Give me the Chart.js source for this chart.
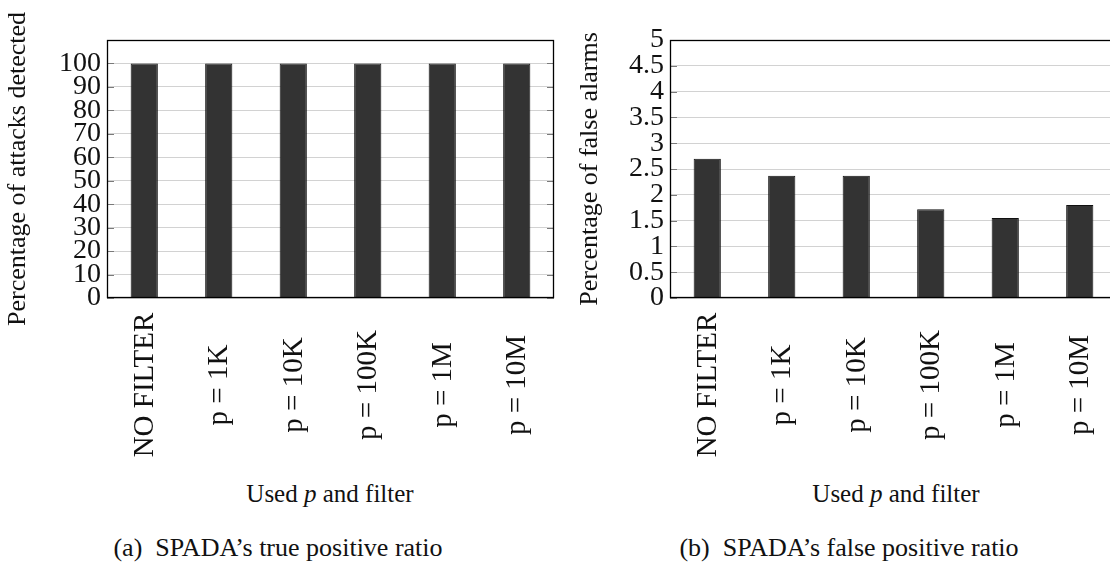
<!DOCTYPE html>
<html>
<head>
<meta charset="utf-8">
<script src="https://cdn.jsdelivr.net/npm/chart.js@4/dist/chart.umd.min.js"></script>
<style>
  html, body { margin: 0; padding: 0; background: #fff; overflow: hidden; }
  body { width: 1110px; height: 563px; position: relative; font-family: "Liberation Serif", "Times New Roman", serif; color: #111; }
  .panel { position: absolute; top: 0; }
  .axis-title, .caption { position: absolute; white-space: nowrap; transform: translateX(-50%); line-height: 1; }
  .axis-title { font-size: 25px; top: 481px; }
  .caption { font-size: 26px; top: 535px; }
  .axis-title i { font-style: italic; }
</style>
</head>
<body>
<div class="panel" style="left:0;width:560px;height:470px"><canvas id="tpr" width="560" height="470"></canvas></div>
<div class="panel" style="left:560px;width:570px;height:470px"><canvas id="fpr" width="570" height="470"></canvas></div>

<div class="axis-title" style="left:330px">Used <i>p</i> and filter</div>
<div class="axis-title" style="left:896px">Used <i>p</i> and filter</div>
<div class="caption" style="left:278px">(a)&nbsp; SPADA’s true positive ratio</div>
<div class="caption" style="left:849px">(b)&nbsp; SPADA’s false positive ratio</div>

<script>
// Filter settings compared in both panels
const categories = ['NO FILTER', 'p = 1K', 'p = 10K', 'p = 100K', 'p = 1M', 'p = 10M'];

// Percentage of attacks detected per setting
const detectedPct = [100, 100, 100, 100, 100, 100];
const detectedTicks = [0, 10, 20, 30, 40, 50, 60, 70, 80, 90, 100];

// Percentage of false alarms per setting
const falseAlarmPct = [2.7, 2.37, 2.37, 1.72, 1.55, 1.8];
const falseAlarmTicks = [0, 0.5, 1, 1.5, 2, 2.5, 3, 3.5, 4, 4.5, 5];

const SERIF = '"Liberation Serif", "Times New Roman", serif';

// Plot frame, inner tick marks and vertical category labels
const framePlugin = {
  id: 'frame',
  afterDatasetsDraw(chart) {
    const { ctx, chartArea: a, scales: { x, y } } = chart;
    ctx.save();
    ctx.lineWidth = 1;
    ctx.strokeStyle = '#7a7a7a';
    y.ticks.forEach(t => {
      const py = Math.round(y.getPixelForValue(t.value)) + 0.5;
      ctx.beginPath();
      ctx.moveTo(a.left, py); ctx.lineTo(a.left + 7, py);
      ctx.moveTo(a.right - 7, py); ctx.lineTo(a.right, py);
      ctx.stroke();
    });
    ctx.strokeStyle = '#000';
    ctx.lineWidth = 1.3;
    ctx.strokeRect(Math.round(a.left) + 0.5, Math.round(a.top) + 0.5,
                   Math.round(a.width) - 1, Math.round(a.height) - 1);

    ctx.fillStyle = '#111';
    ctx.font = '29px ' + SERIF;
    ctx.textAlign = 'center';
    ctx.textBaseline = 'middle';
    const cy = a.bottom + 87;
    chart.data.labels.forEach((lbl, i) => {
      const px = x.getPixelForTick(i);
      ctx.save();
      ctx.translate(px + 1, cy);
      ctx.rotate(-Math.PI / 2);
      ctx.fillText(lbl, 0, 0);
      ctx.restore();
    });
    ctx.restore();
  }
};

function makeChart(id, values, ticks, yMax, yTitle, axisWidth, padRight, titlePad) {
  return new Chart(document.getElementById(id), {
    type: 'bar',
    data: {
      labels: categories,
      datasets: [{
        data: values,
        backgroundColor: '#333333',
        borderColor: '#111111',
        borderWidth: 1,
        categoryPercentage: 1,
        barPercentage: 0.365
      }]
    },
    options: {
      responsive: false,
      animation: false,
      devicePixelRatio: 1,
      layout: { padding: { top: 40, right: padRight, bottom: 0, left: 0 } },
      plugins: { legend: { display: false }, tooltip: { enabled: false } },
      scales: {
        x: {
          grid: { display: false, drawTicks: false },
          border: { display: false },
          ticks: { display: false },
          afterFit: s => { s.height = 172; }
        },
        y: {
          min: 0,
          max: yMax,
          afterBuildTicks: s => { s.ticks = ticks.map(v => ({ value: v })); },
          afterFit: s => { s.width = axisWidth; },
          grid: { color: '#d2d2d2', lineWidth: 1, drawTicks: false },
          border: { display: false },
          ticks: {
            autoSkip: false,
            padding: 6,
            color: '#111',
            font: { family: SERIF, size: 28 },
            callback: v => String(v)
          },
          title: {
            display: true,
            text: yTitle,
            color: '#111',
            font: { family: SERIF, size: 26 },
            padding: { top: titlePad, bottom: 0 }
          }
        }
      }
    },
    plugins: [framePlugin]
  });
}

makeChart('tpr', detectedPct, detectedTicks, 110, 'Percentage of attacks detected', 107, 6, 3);
makeChart('fpr', falseAlarmPct, falseAlarmTicks, 5, 'Percentage of false alarms', 110, 13, 15);
</script>
</body>
</html>
